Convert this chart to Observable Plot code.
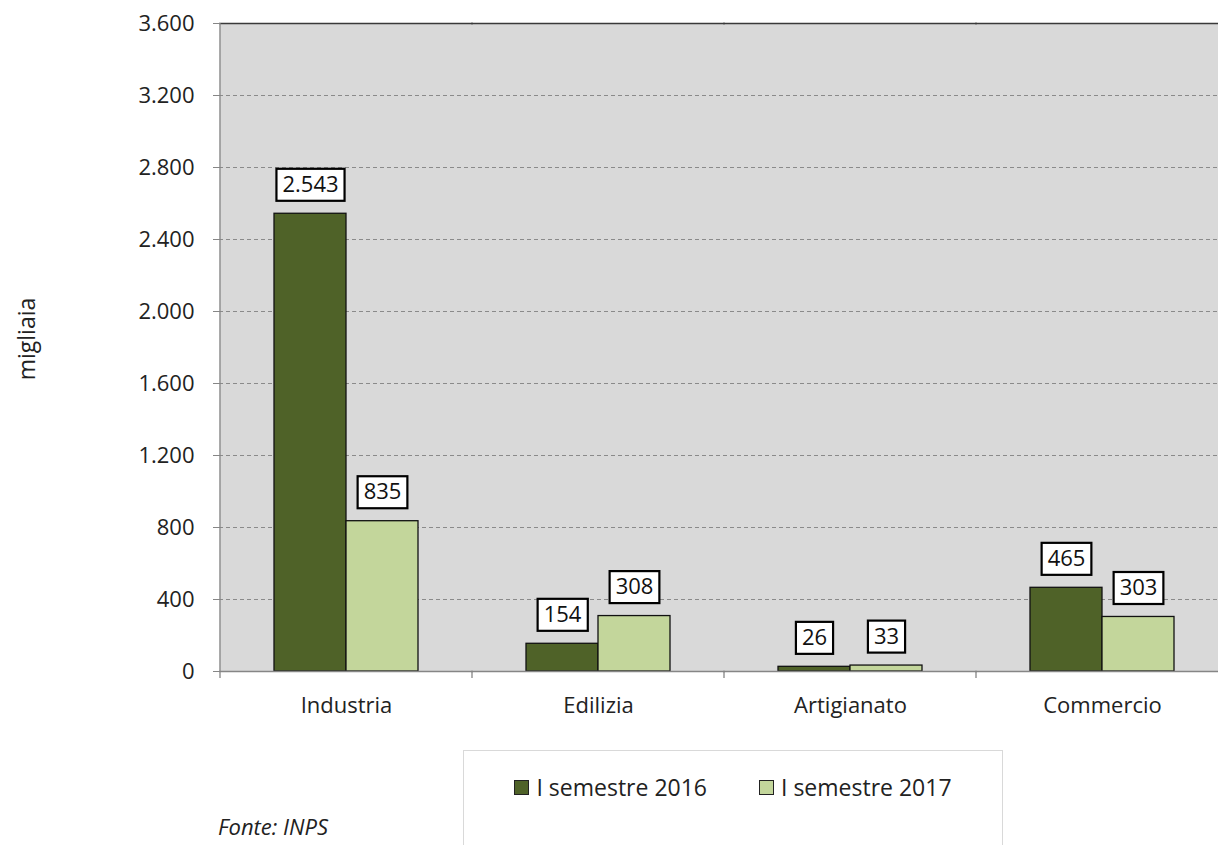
<!DOCTYPE html>
<html>
<head>
<meta charset="utf-8">
<script src="https://cdn.jsdelivr.net/npm/d3@7"></script>
<script src="https://cdn.jsdelivr.net/npm/@observablehq/plot@0.6"></script>
<style>
  html, body { margin: 0; padding: 0; background: #fff; overflow: hidden; width: 1218px; height: 845px; }
  #wrap { position: relative; width: 1218px; height: 845px; font-family: "Open Sans", sans-serif; color: #222; overflow: hidden; }
  #chart { position: absolute; left: 0; top: 0; }
  #legend { position: absolute; left: 463px; top: 750px; width: 540px; height: 120px; box-sizing: border-box;
            border: 1px solid #d9d9d9; display: flex; justify-content: center; align-items: center;
            gap: 52px; padding-bottom: 46px; font-size: 23px; }
  .item { display: flex; align-items: center; gap: 7px; white-space: nowrap; }
  .sw { width: 15px; height: 15px; box-sizing: border-box; border: 1px solid #222; }
  #ylab { position: absolute; left: 26px; top: 339px; font-size: 23px; white-space: nowrap;
          transform: translate(-50%, -50%) rotate(-90deg); line-height: 1; }
  #caption { position: absolute; left: 218px; top: 814px; font-size: 22px; font-style: italic; line-height: 24px; white-space: nowrap; }
</style>
</head>
<body>
<div id="wrap">
  <div id="chart"></div>
  <div id="ylab"></div>
  <div id="legend"></div>
  <div id="caption">Fonte: INPS</div>
</div>
<script>
const categories = ["Industria", "Edilizia", "Artigianato", "Commercio"];
const series = ["I semestre 2016", "I semestre 2017"];
const values2016 = [2543, 154, 26, 465];
const values2017 = [835, 308, 33, 303];
const yTicks = [0, 400, 800, 1200, 1600, 2000, 2400, 2800, 3200, 3600];
const colors = ["#4f6228", "#c3d69b"];
const yLabel = "migliaia";

const it = d3.formatLocale({decimal: ",", thousands: ".", grouping: [3], currency: ["€", ""]});
const fmt = it.format(",d");

const rows = [];
categories.forEach((c, i) => {
  rows.push({category: c, series: series[0], value: values2016[i]});
  rows.push({category: c, series: series[1], value: values2017[i]});
});
const yMax = yTicks[yTicks.length - 1];
const gridTicks = yTicks.filter(t => t > 0 && t < yMax);

const plot = Plot.plot({
  width: 1228,
  height: 740,
  marginTop: 23,
  marginBottom: 69,
  marginLeft: 220,
  marginRight: 0,
  style: {fontFamily: "Open Sans", fontSize: "22px", color: "#222", maxWidth: "none", overflow: "visible", background: "transparent"},
  fx: {domain: categories, padding: 0, label: null},
  x: {domain: series, paddingInner: 0, paddingOuter: 0.75, axis: null},
  y: {domain: [0, yMax]},
  color: {domain: series, range: colors},
  marks: [
    Plot.frame({fill: "#d9d9d9", insetLeft: -1, insetRight: -1}),
    Plot.ruleY(gridTicks, {stroke: "#8a8a8a", strokeDasharray: "4,3", insetLeft: -1, insetRight: -1}),
    Plot.ruleY([yMax], {stroke: "#3a3a3a", strokeWidth: 1.3, insetLeft: -1, insetRight: -1}),
    Plot.barY(rows, {fx: "category", x: "series", y: "value", fill: "series", stroke: "#111", strokeWidth: 1.3}),
    Plot.ruleY([0], {stroke: "#868686", strokeWidth: 1.3, insetLeft: -1, insetRight: -1}),
    Plot.axisY({ticks: yTicks, tickFormat: fmt, tickSize: 7, tickPadding: 19, stroke: "#868686", fill: "#222", label: null}),
    Plot.axisFx({anchor: "bottom", tickSize: 0, tickPadding: 26, label: null, fill: "#222"}),
    Plot.text(rows, {fx: "category", x: "series", y: "value", text: d => fmt(d.value), dy: -29, fill: "#111", className: "vlabel"})
  ]
});

document.getElementById("chart").appendChild(plot);
document.getElementById("ylab").textContent = yLabel;

// white boxed value labels
const ns = "http://www.w3.org/2000/svg";
let labelTexts = plot.querySelectorAll(".vlabel text");
if (!labelTexts.length) labelTexts = plot.querySelectorAll('g[aria-label="text"] text');
labelTexts.forEach(t => {
  const b = t.getBBox();
  const r = document.createElementNS(ns, "rect");
  r.setAttribute("x", b.x - 6);
  r.setAttribute("y", b.y + 1);
  r.setAttribute("width", b.width + 12);
  r.setAttribute("height", b.height + 2);
  r.setAttribute("fill", "#fff");
  r.setAttribute("stroke", "#000");
  r.setAttribute("stroke-width", 2.2);
  const tr = t.getAttribute("transform");
  if (tr) r.setAttribute("transform", tr);
  t.parentNode.insertBefore(r, t);
});

// category boundary ticks and left axis line, from the plot's scales
const fx = plot.scale("fx");
const ys = plot.scale("y");
const y0 = ys.apply(0), yTop = ys.apply(yMax);
const g = document.createElementNS(ns, "g");
g.setAttribute("stroke", "#868686");
g.setAttribute("stroke-width", 1.3);
const addLine = (x1, y1, x2, y2) => {
  const l = document.createElementNS(ns, "line");
  l.setAttribute("x1", x1); l.setAttribute("y1", y1);
  l.setAttribute("x2", x2); l.setAttribute("y2", y2);
  g.appendChild(l);
};
const xLeft = fx.apply(categories[0]);
addLine(xLeft, yTop, xLeft, y0);
categories.forEach(c => { const xb = fx.apply(c); addLine(xb, y0, xb, y0 + 7); });
plot.appendChild(g);

// legend
const legend = document.getElementById("legend");
series.forEach((s, i) => {
  const item = document.createElement("div");
  item.className = "item";
  const sw = document.createElement("div");
  sw.className = "sw";
  sw.style.background = colors[i];
  const lab = document.createElement("span");
  lab.textContent = s;
  item.appendChild(sw); item.appendChild(lab);
  legend.appendChild(item);
});
</script>
</body>
</html>
